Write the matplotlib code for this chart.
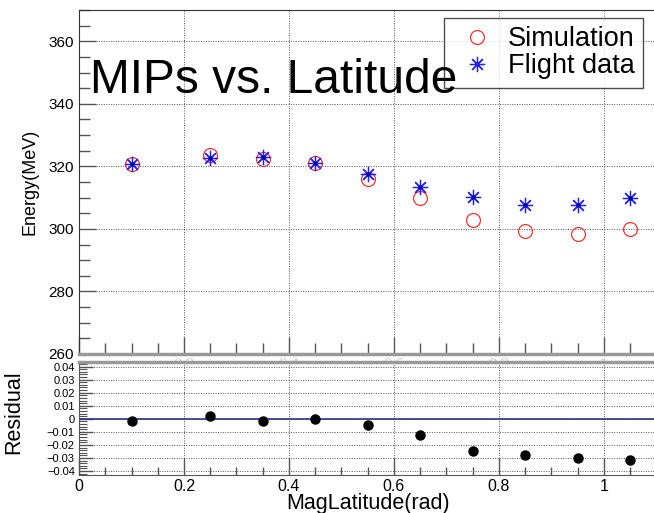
import numpy as np
import matplotlib.pyplot as plt
from matplotlib.ticker import MultipleLocator

plt.rcParams['font.family'] = ['Liberation Sans', 'DejaVu Sans']

# values
lat = [0.10, 0.25, 0.35, 0.45, 0.55, 0.65, 0.75, 0.85, 0.95, 1.05]
sim_energy = [320.6, 323.6, 322.3, 321.1, 315.9, 309.8, 302.7, 299.3, 298.3, 300.1]
flight_energy = [320.9, 322.8, 322.9, 321.2, 317.6, 313.4, 310.2, 307.7, 307.5, 309.8]
residual = [-0.0013, 0.0020, -0.0020, 0.0000, -0.0044, -0.0123, -0.0246, -0.0280, -0.0297, -0.0313]
x_ticks = [0, 0.2, 0.4, 0.6, 0.8, 1.0]
x_ticklabels = ['0', '0.2', '0.4', '0.6', '0.8', '1']
ghost_ticklabels = ['', '0.2', '0.4', '0.6', '0.8', '1']
res_ticks = [-0.04, -0.03, -0.02, -0.01, 0, 0.01, 0.02, 0.03, 0.04]
res_ticklabels = ['\u22120.04', '\u22120.03', '\u22120.02', '\u22120.01', '0', '0.01', '0.02', '0.03', '0.04']

fig = plt.figure(figsize=(6.54, 5.13), dpi=100)
ax = fig.add_axes([0.1208, 0.310, 0.883, 0.6706])
ax2 = fig.add_axes([0.1208, 0.0741, 0.883, 0.2203])

grid_kw = dict(color='#555555', linestyle=(0, (1, 1.5)), linewidth=0.7)

# top panel
ax.plot(lat, sim_energy, 'o', mfc='none', mec='#ff3030', ms=10, mew=0.9, label='Simulation', zorder=3)
ax.plot(lat, flight_energy, ls='none', marker=(8, 2, 0), color='#2020ff', ms=11, mew=0.9,
        label='Flight data', zorder=4)
ax.plot(lat, flight_energy, 's', color='#000080', ms=2, zorder=5)
ax.set_xlim(0, 1.1)
ax.set_ylim(260, 370)
ax.set_xticks(x_ticks)
ax.set_xticklabels(ghost_ticklabels)
ax.xaxis.set_minor_locator(MultipleLocator(0.05))
ax.yaxis.set_major_locator(MultipleLocator(20))
ax.yaxis.set_minor_locator(MultipleLocator(5))
ax.grid(True, which='major', **grid_kw)
ax.tick_params(which='both', direction='in', color='#555555', top=False, right=False)
ax.tick_params(which='major', length=12, width=1, labelsize=11)
ax.tick_params(which='minor', length=8, width=1)
ax.tick_params(axis='x', labelcolor='#d4d4d4', pad=2)
for lab in ax.get_yticklabels():
    lab.set_verticalalignment('center_baseline')
ax.set_ylabel('Energy(MeV)', fontsize=13, labelpad=7)
for s in ax.spines.values():
    s.set_color('#333333')
ax.spines['bottom'].set_color('#999999')
ax.spines['bottom'].set_linewidth(2.5)

leg = ax.legend(loc='upper right', bbox_to_anchor=(0.983, 0.965), bbox_transform=fig.transFigure,
                fontsize=19.5, frameon=True, fancybox=False, edgecolor='#222222',
                borderaxespad=0, handletextpad=0.25, borderpad=0.3, labelspacing=0.05,
                handlelength=1.8)
leg.get_frame().set_linewidth(1.0)

fig.text(0.137, 0.818, 'MIPs vs. Latitude', fontsize=34.5, va='baseline', ha='left')

# residual panel
ax2.axhline(0, color='#303090', linewidth=1.2, zorder=2)
ax2.plot(lat, residual, 'o', color='black', ms=6.5, zorder=3)
ax2.set_xlim(0, 1.1)
ax2.set_ylim(-0.043, 0.0435)
ax2.set_xticks(x_ticks)
ax2.set_xticklabels(x_ticklabels)
ax2.xaxis.set_minor_locator(MultipleLocator(0.05))
ax2.set_yticks(res_ticks)
ax2.set_yticklabels(res_ticklabels, va='center_baseline')
ax2.yaxis.set_minor_locator(MultipleLocator(0.002))
ax2.grid(True, which='major', **grid_kw)
ax2.tick_params(which='both', direction='in', color='#555555', top=False, right=False)
ax2.tick_params(axis='x', which='major', length=12, width=1, labelsize=11.5, pad=3)
ax2.tick_params(axis='x', which='minor', length=6, width=1)
ax2.tick_params(axis='y', which='major', length=10, width=1, labelsize=8, pad=3)
ax2.tick_params(axis='y', which='minor', length=6, width=0.8)
ax2.set_ylabel('Residual', fontsize=15.5)
ax2.yaxis.set_label_coords(-0.095, 0.56)
ax2.set_xlabel('MagLatitude(rad)', fontsize=15.5, labelpad=-1)
for s in ax2.spines.values():
    s.set_color('#555555')
ax2.spines['top'].set_color('#999999')
ax2.spines['top'].set_linewidth(2.5)

fig.savefig('out.png', dpi=100)
